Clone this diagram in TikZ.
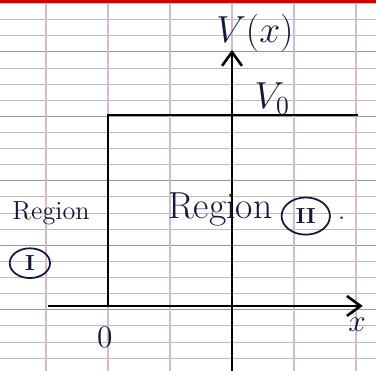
\documentclass[tikz,border=0pt]{standalone}
\usepackage{amsmath,amssymb}
\usepackage{tikz}
\usetikzlibrary{arrows.meta,calc,positioning,shapes.geometric}
\definecolor{ink}{RGB}{22,22,62}
\definecolor{pinkline}{RGB}{215,185,205}
\definecolor{greyline}{RGB}{190,188,190}

\begin{document}
\begin{tikzpicture}[x=1cm,y=1cm,>={Straight Barb[length=2.2mm,width=3.2mm]},
  lbl/.style={text=ink,font=\large},
  biglbl/.style={text=ink,font=\LARGE},
  circnum/.style={draw=ink,thick,ellipse,inner sep=0pt,text=ink,font=\bfseries}]
\useasboundingbox (-3.742,-1.048) rectangle (2.323,4.935);
% paper
\foreach \k in {-3,...,19}
  \draw[greyline,line width=0.35pt] (-3.742,{-0.06+0.26*\k}) -- (2.323,{-0.06+0.26*\k});
\foreach \k in {-1,...,4}
  \draw[gray!80,line width=0.6pt] (-3.742,{-0.06+1.04*\k}) -- (2.323,{-0.06+1.04*\k});
\foreach \i in {-3,...,2}
  \draw[pinkline,line width=0.5pt] (\i,-1.048) -- (\i,4.935);
\fill[red!85!black] (-3.742,4.885) rectangle (2.323,4.935);
% axes
\coordinate (xl) at (-2.97,0);
\coordinate (xr) at (2.11,0);
\coordinate (yb) at (0,-1.048);
\coordinate (yt) at (0,4.13);
\draw[very thick,->] (xl) -- (xr);
\draw[very thick,->] (yb) -- (yt);
% potential step
\coordinate (foot) at (-2,0);
\coordinate (corner) at (-2,3.08);
\coordinate (far) at (2.03,3.08);
\draw[very thick] (foot) -- (corner) -- (far);
% labels
\node[biglbl] (vx) at (0.37,4.4) {$V(x)$};
\node[lbl,font=\Large] (xlab) at (2.02,-0.31) {$x$};
\node[lbl,font=\Large] (zero) at (-2.05,-0.5) {$0$};
\node[biglbl] (vzero) at (0.65,3.34) {$V_0$};
\node[lbl] (regone) at (-2.92,1.5) {Region};
\node[circnum,minimum width=0.65cm,minimum height=0.48cm] (one) at (-3.26,0.69) {I};
\node[biglbl] (regtwo) at (-0.19,1.55) {Region};
\node[circnum,minimum width=0.78cm,minimum height=0.6cm] (two) at (1.19,1.45) {II};
\node[lbl] (dot) at (1.77,1.42) {.};
\end{tikzpicture}
\end{document}
